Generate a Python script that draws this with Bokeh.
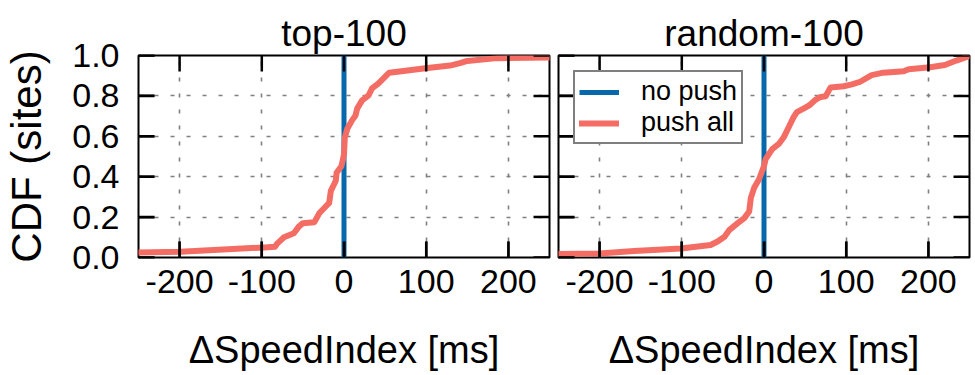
from bokeh.plotting import figure
from bokeh.models import Legend, LegendItem, Range1d, PrintfTickFormatter, FixedTicker
from bokeh.layouts import row
from bokeh.embed import file_html
from bokeh.resources import INLINE

FONT = "Liberation Sans"

panel_titles = ["top-100", "random-100"]
x_label = "\u0394SpeedIndex [ms]"
y_label = "CDF (sites)"
x_min, x_max = -250, 250
y_min, y_max = 0.0, 1.0
x_ticks = [-200, -100, 0, 100, 200]
y_ticks = [0.0, 0.2, 0.4, 0.6, 0.8, 1.0]
series_names = ["no push", "push all"]

# no push: every site has delta 0
nopush_x = [0, 0]
nopush_y = [0.0, 1.0]

# push all, top-100
top_x = [-250, -199, -97, -84, -81, -73, -61, -55, -50, -36, -30, -24, -18, -16,
         -10, -9, -3, 0, 1, 4, 10, 14, 16, 22, 30, 34, 42, 48, 55, 65, 99, 129,
         141, 150, 186, 250]
top_y = [0.025, 0.028, 0.05, 0.053, 0.07, 0.10, 0.12, 0.153, 0.17, 0.175, 0.22,
         0.245, 0.27, 0.33, 0.38, 0.42, 0.453, 0.51, 0.595, 0.637, 0.68, 0.703,
         0.737, 0.778, 0.803, 0.837, 0.862, 0.887, 0.915, 0.92, 0.937, 0.95,
         0.962, 0.973, 0.987, 0.99]

# push all, random-100
rand_x = [-250, -200, -158, -101, -65, -57, -48, -42, -32, -24, -18, -16, -12, -6,
          0, 2, 10, 18, 24, 30, 36, 40, 48, 55, 63, 69, 75, 81, 97, 107, 117, 131,
          145, 170, 176, 202, 220, 234, 250]
rand_y = [0.017, 0.02, 0.032, 0.045, 0.062, 0.078, 0.103, 0.137, 0.17, 0.195,
          0.228, 0.295, 0.345, 0.387, 0.453, 0.487, 0.537, 0.562, 0.595, 0.645,
          0.695, 0.72, 0.737, 0.753, 0.782, 0.795, 0.798, 0.842, 0.848, 0.857,
          0.87, 0.903, 0.915, 0.922, 0.932, 0.942, 0.953, 0.975, 0.997]

BLUE = "#0868ac"
RED = "#f46d64"
FRAME_W, FRAME_H = 411, 202
TICK_LEN = 16  # px, inward


def make_panel(title, xs, ys, first, with_legend):
    p = figure(frame_width=FRAME_W, frame_height=FRAME_H,
               min_border_left=137 if first else 5,
               min_border_right=4 if first else 7,
               min_border_top=55, min_border_bottom=118,
               x_range=Range1d(x_min, x_max), y_range=Range1d(y_min, y_max),
               output_backend="svg", toolbar_location=None, title=title)
    p.title.align = "center"
    p.title.vertical_align = "top"
    p.title.text_font = FONT
    p.title.text_font_size = "37px"
    p.title.text_font_style = "normal"
    p.title.text_color = "black"
    p.title.standoff = 0

    p.outline_line_color = "black"
    p.outline_line_width = 2
    p.background_fill_color = "white"
    p.border_fill_color = "white"

    for g in (p.xgrid, p.ygrid):
        g.grid_line_color = "#808080"
        g.grid_line_width = 1.6
        g.grid_line_dash = "4 12"
        g.level = "underlay"
    p.xgrid.ticker = FixedTicker(ticks=x_ticks)
    p.ygrid.ticker = FixedTicker(ticks=y_ticks)

    # bottom axis
    xa = p.xaxis[0]
    xa.ticker = FixedTicker(ticks=x_ticks)
    xa.formatter = PrintfTickFormatter(format="%d")
    xa.axis_line_color = None
    xa.major_tick_in = TICK_LEN
    xa.major_tick_out = 0
    xa.major_tick_line_width = 2
    xa.major_tick_line_color = "black"
    xa.minor_tick_line_color = None
    xa.major_label_text_font = FONT
    xa.major_label_text_font_size = "34px"
    xa.major_label_text_color = "black"
    xa.major_label_standoff = 12
    xa.axis_label = x_label
    xa.axis_label_text_font = FONT
    xa.axis_label_text_font_size = "38px"
    xa.axis_label_text_font_style = "normal"
    xa.axis_label_text_color = "black"
    xa.axis_label_standoff = 33

    # left axis
    ya = p.yaxis[0]
    ya.ticker = FixedTicker(ticks=y_ticks)
    ya.axis_line_color = None
    ya.major_tick_in = TICK_LEN
    ya.major_tick_out = 0
    ya.major_tick_line_width = 2
    ya.major_tick_line_color = "black"
    ya.minor_tick_line_color = None
    ya.formatter = PrintfTickFormatter(format="%.1f")
    if first:
        ya.major_label_text_font = FONT
        ya.major_label_text_font_size = "34px"
        ya.major_label_text_color = "black"
        ya.major_label_standoff = 19
        ya.axis_label = y_label
        ya.axis_label_text_font = FONT
        ya.axis_label_text_font_size = "42px"
        ya.axis_label_text_font_style = "normal"
        ya.axis_label_text_color = "black"
        ya.axis_label_standoff = 19
    else:
        ya.major_label_overrides = {t: "" for t in y_ticks}
        ya.major_label_text_font_size = "1px"
        ya.major_label_standoff = 0

    # inward tick marks on all four sides, drawn as short lines
    dy = TICK_LEN / FRAME_H * (y_max - y_min)
    dx = TICK_LEN / FRAME_W * (x_max - x_min)
    tick_xs, tick_ys = [], []
    for t in x_ticks:
        tick_xs += [[t, t], [t, t]]
        tick_ys += [[y_min, y_min + dy], [y_max, y_max - dy]]
    for t in y_ticks:
        tick_xs += [[x_min, x_min + dx], [x_max, x_max - dx]]
        tick_ys += [[t, t], [t, t]]

    r_blue = p.line(nopush_x, nopush_y, line_color=BLUE, line_width=5)
    r_red = p.line(xs, ys, line_color=RED, line_width=6, line_join="round",
                   line_cap="round")
    p.multi_line(xs=tick_xs, ys=tick_ys, line_color="black", line_width=2.5)

    if with_legend:
        leg = Legend(items=[LegendItem(label=series_names[0], renderers=[r_blue]),
                            LegendItem(label=series_names[1], renderers=[r_red])],
                     location="top_left", margin=15,
                     border_line_color="black", border_line_width=2,
                     background_fill_color="white", background_fill_alpha=1.0,
                     padding=4, spacing=0, glyph_width=40, glyph_height=20,
                     label_height=20, label_standoff=22,
                     label_text_font=FONT, label_text_font_size="27px",
                     label_text_color="black")
        p.add_layout(leg, "center")
    return p


p1 = make_panel(panel_titles[0], top_x, top_y, True, False)
p2 = make_panel(panel_titles[1], rand_x, rand_y, False, True)
layout = row(p1, p2)

open("out.html", "w").write(file_html(layout, INLINE))
